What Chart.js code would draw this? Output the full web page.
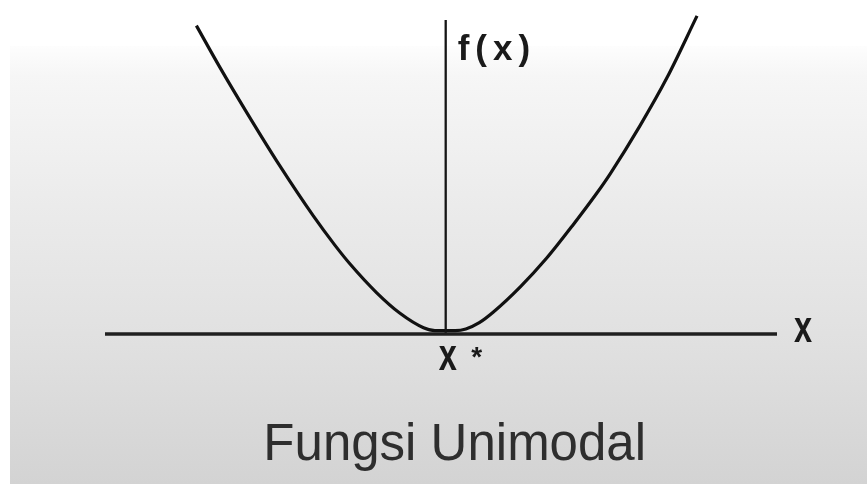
<!DOCTYPE html>
<html>
<head>
<meta charset="utf-8">
<script src="https://cdn.jsdelivr.net/npm/chart.js@4.4.1/dist/chart.umd.min.js"></script>
<style>
  html, body { margin: 0; padding: 0; background: #fff; }
  .wrap { position: relative; width: 867px; height: 484px; overflow: hidden; }
  .bg {
    position: absolute; left: 10px; top: 46px; right: 0; bottom: 0;
    background: linear-gradient(#fdfdfd 0px, #f6f6f6 30px, #ebebeb 160px, #e0e0e0 300px, #d3d3d3 438px);
  }
  canvas { position: absolute; left: 0; top: 0; }
</style>
</head>
<body>
<div class="wrap">
  <div class="bg"></div>
  <canvas id="chart" width="867" height="484"></canvas>
</div>
<script>
// curve points (x* at 0, horizontal axis at 0)
const curveX = [-3.71, -3.36, -2.96, -2.47, -1.97, -1.65, -1.42, -1.03, -0.68, -0.33, -0.16, 0.14, 0.30, 0.50, 0.71, 1.11, 1.50, 1.90, 2.25, 2.45, 2.89, 3.29, 3.74];
const curveY = [9.82, 8.49, 7.05, 5.36, 3.76, 2.83, 2.22, 1.32, 0.66, 0.20, 0.11, 0.11, 0.16, 0.36, 0.70, 1.50, 2.41, 3.49, 4.49, 5.11, 6.63, 8.15, 10.13];

const xRange = [-5.07, 4.93];
const yRange = [0, 10];

const yAxisLabel = "f(x)";
const xAxisLabel = "x";
const minLabel = "x";
const minStar = "*";
const titleText = "Fungsi Unimodal";

const curve = curveX.map((x, i) => ({ x: x, y: curveY[i] }));
const xAxisLine = [{ x: xRange[0], y: 0 }, { x: xRange[1], y: 0 }];
const yAxisLine = [{ x: 0, y: yRange[0] }, { x: 0, y: yRange[1] }];

const labelPlugin = {
    id: "labels",
    afterDraw(chart) {
        const ctx = chart.ctx;
        const xs = chart.scales.x;
        const ys = chart.scales.y;
        const x0 = xs.getPixelForValue(0);
        const y0 = ys.getPixelForValue(0);
        const yTop = ys.getPixelForValue(yRange[1]);
        const xEnd = xs.getPixelForValue(xRange[1]);

        ctx.save();
        ctx.fillStyle = "#1a1a1a";
        ctx.textBaseline = "alphabetic";

        // f(x) beside the top of the vertical axis
        ctx.font = "bold 35px 'Liberation Sans', Arial, sans-serif";
        ctx.textAlign = "left";
        if ("letterSpacing" in ctx) ctx.letterSpacing = "6px";
        ctx.fillText(yAxisLabel, x0 + 12, yTop + 40);
        if ("letterSpacing" in ctx) ctx.letterSpacing = "0px";

        // x at the end of the horizontal axis
        ctx.save();
        ctx.translate(xEnd + 26, y0 + 8);
        ctx.scale(0.74, 1);
        ctx.font = "bold 44px 'Liberation Sans', Arial, sans-serif";
        ctx.textAlign = "center";
        ctx.fillText(xAxisLabel, 0, 0);
        ctx.restore();

        // x* under the minimum
        ctx.save();
        ctx.translate(x0 + 2, y0 + 36);
        ctx.scale(0.74, 1);
        ctx.font = "bold 44px 'Liberation Sans', Arial, sans-serif";
        ctx.textAlign = "center";
        ctx.fillText(minLabel, 0, 0);
        ctx.restore();
        ctx.font = "bold 28px 'Liberation Sans', Arial, sans-serif";
        ctx.textAlign = "center";
        ctx.fillText(minStar, x0 + 31, y0 + 32);

        // title
        ctx.fillStyle = "#2e2e2e";
        ctx.font = "51px 'Liberation Sans', Arial, sans-serif";
        ctx.textAlign = "center";
        ctx.fillText(titleText, x0 + 9, y0 + 126);
        ctx.restore();
    }
};

const myChart = new Chart(document.getElementById("chart"), {
    type: "scatter",
    data: {
        datasets: [
            {
                data: xAxisLine,
                showLine: true,
                borderColor: "#202020",
                borderWidth: 3.5,
                pointRadius: 0,
                clip: false
            },
            {
                data: yAxisLine,
                showLine: true,
                borderColor: "#151515",
                borderWidth: 2.3,
                pointRadius: 0,
                clip: false
            },
            {
                data: curve,
                showLine: true,
                borderColor: "#111",
                borderWidth: 3.2,
                pointRadius: 0,
                cubicInterpolationMode: "monotone",
                clip: false
            }
        ]
    },
    options: {
        responsive: false,
        animation: false,
        layout: { padding: { left: 105, right: 90, top: 20, bottom: 150 } },
        scales: {
            x: { type: "linear", min: xRange[0], max: xRange[1], display: false },
            y: { type: "linear", min: yRange[0], max: yRange[1], display: false }
        },
        plugins: {
            legend: { display: false },
            tooltip: { enabled: false }
        }
    },
    plugins: [labelPlugin]
});
</script>
</body>
</html>
